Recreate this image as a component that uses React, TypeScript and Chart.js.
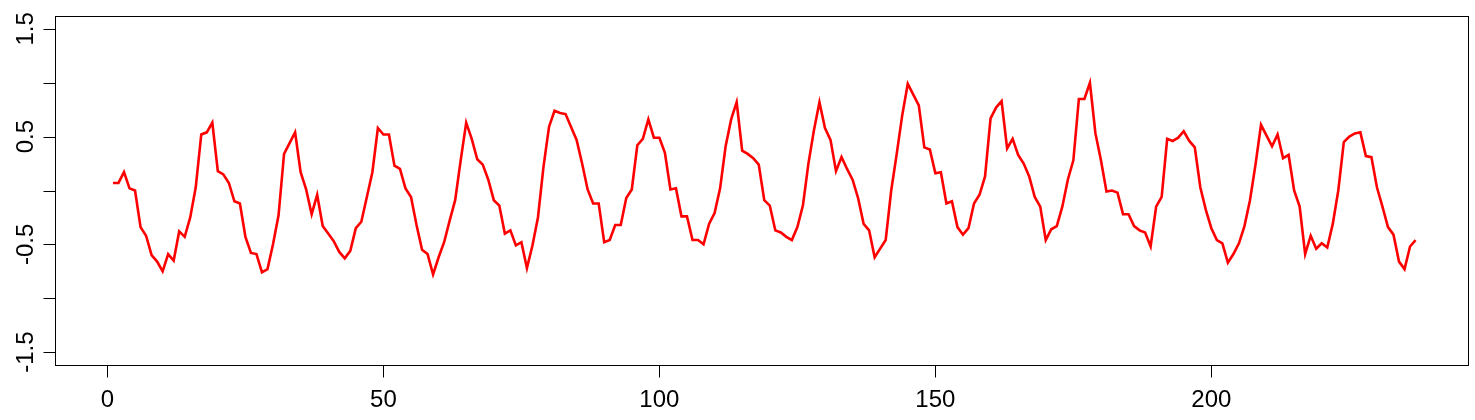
import React, { useEffect, useRef } from "react";
import { Chart, registerables } from "chart.js";

Chart.register(...registerables);

const seriesValues: number[] = [
  0.07, 0.07, 0.17, 0.02, 0.0, -0.34, -0.42, -0.6, -0.66, -0.75,
  -0.59, -0.65, -0.38, -0.43, -0.25, 0.03, 0.52, 0.54, 0.63, 0.18,
  0.15, 0.07, -0.1, -0.12, -0.43, -0.58, -0.59, -0.76, -0.73, -0.5,
  -0.23, 0.34, 0.44, 0.54, 0.17, 0.01, -0.22, -0.04, -0.33, -0.4,
  -0.47, -0.57, -0.63, -0.56, -0.35, -0.29, -0.06, 0.17, 0.58, 0.52,
  0.52, 0.23, 0.2, 0.02, -0.06, -0.32, -0.55, -0.59, -0.78, -0.62,
  -0.48, -0.28, -0.09, 0.28, 0.63, 0.48, 0.29, 0.24, 0.1, -0.09,
  -0.14, -0.4, -0.37, -0.51, -0.48, -0.72, -0.51, -0.25, 0.22, 0.59,
  0.74, 0.72, 0.71, 0.59, 0.47, 0.25, 0.01, -0.12, -0.12, -0.48,
  -0.46, -0.32, -0.32, -0.07, 0.01, 0.42, 0.48, 0.66, 0.49, 0.49,
  0.35, 0.01, 0.02, -0.24, -0.24, -0.46, -0.46, -0.5, -0.31, -0.21,
  0.02, 0.41, 0.66, 0.82, 0.37, 0.34, 0.3, 0.24, -0.09, -0.14,
  -0.37, -0.39, -0.43, -0.46, -0.34, -0.14, 0.25, 0.56, 0.82, 0.58,
  0.47, 0.18, 0.31, 0.2, 0.1, -0.07, -0.31, -0.37, -0.62, -0.54,
  -0.46, 0.0, 0.34, 0.7, 0.99, 0.89, 0.79, 0.4, 0.38, 0.16,
  0.17, -0.12, -0.1, -0.34, -0.41, -0.35, -0.12, -0.04, 0.13, 0.67,
  0.77, 0.83, 0.39, 0.48, 0.33, 0.25, 0.13, -0.06, -0.15, -0.46,
  -0.36, -0.33, -0.15, 0.1, 0.28, 0.85, 0.85, 1.0, 0.53, 0.28,
  -0.01, 0.0, -0.02, -0.22, -0.22, -0.33, -0.37, -0.39, -0.52, -0.15,
  -0.06, 0.48, 0.46, 0.49, 0.55, 0.46, 0.4, 0.03, -0.18, -0.35,
  -0.46, -0.49, -0.67, -0.59, -0.49, -0.33, -0.09, 0.24, 0.61, 0.51,
  0.41, 0.52, 0.3, 0.33, 0.0, -0.15, -0.59, -0.42, -0.54, -0.49,
  -0.53, -0.31, 0.0, 0.45, 0.5, 0.53, 0.54, 0.32, 0.31, 0.03,
  -0.15, -0.34, -0.41, -0.66, -0.73, -0.52, -0.46,
];

const xTicks: number[] = [0, 50, 100, 150, 200];
const xTickLabels: string[] = ["0", "50", "100", "150", "200"];
const yTicks: number[] = [-1.5, -1, -0.5, 0, 0.5, 1, 1.5];
const yTickLabels: string[] = ["-1.5", "", "-0.5", "", "0.5", "", "1.5"];

const FONT = '24px "Liberation Sans", Arial, sans-serif';

const rAxesPlugin = {
  id: "rAxes",
  afterDraw(chart: any) {
    const { ctx, chartArea } = chart;
    const xs = chart.scales.x;
    const ys = chart.scales.y;
    const { left, right, top, bottom } = chartArea;
    ctx.save();
    ctx.strokeStyle = "#000";
    ctx.lineWidth = 1;
    // box
    ctx.strokeRect(Math.round(left) + 0.5, Math.round(top) + 0.5, Math.round(right - left), Math.round(bottom - top));
    // x axis
    ctx.beginPath();
    const bx = Math.round(bottom) + 0.5;
    ctx.moveTo(xs.getPixelForValue(xTicks[0]), bx);
    ctx.lineTo(xs.getPixelForValue(xTicks[xTicks.length - 1]), bx);
    xTicks.forEach((t) => {
      const px = Math.round(xs.getPixelForValue(t)) + 0.5;
      ctx.moveTo(px, bx);
      ctx.lineTo(px, bx + 12);
    });
    // y axis
    const lx = Math.round(left) + 0.5;
    ctx.moveTo(lx, ys.getPixelForValue(yTicks[0]));
    ctx.lineTo(lx, ys.getPixelForValue(yTicks[yTicks.length - 1]));
    yTicks.forEach((t) => {
      const py = Math.round(ys.getPixelForValue(t)) + 0.5;
      ctx.moveTo(lx, py);
      ctx.lineTo(lx - 12, py);
    });
    ctx.stroke();

    ctx.fillStyle = "#000";
    ctx.font = FONT;
    ctx.textAlign = "center";
    ctx.textBaseline = "alphabetic";
    xTicks.forEach((t, i) => {
      ctx.fillText(xTickLabels[i], xs.getPixelForValue(t), bottom + 42);
    });
    yTicks.forEach((t, i) => {
      if (!yTickLabels[i]) return;
      ctx.save();
      ctx.translate(left - 22, ys.getPixelForValue(t));
      ctx.rotate(-Math.PI / 2);
      ctx.fillText(yTickLabels[i], 0, 0);
      ctx.restore();
    });
    ctx.restore();
  },
};

const bgPlugin = {
  id: "bg",
  beforeDraw(chart: any) {
    const { ctx, width, height } = chart;
    ctx.save();
    ctx.fillStyle = "#fff";
    ctx.fillRect(0, 0, width, height);
    ctx.restore();
  },
};

export default function App() {
  const ref = useRef<HTMLCanvasElement | null>(null);
  useEffect(() => {
    if (!ref.current) return;
    const points = seriesValues.map((v, i) => ({ x: i + 1, y: v }));
    const chart = new Chart(ref.current, {
      type: "line",
      data: {
        datasets: [
          {
            data: points,
            borderColor: "#FF0000",
            borderWidth: 2.6,
            pointRadius: 0,
            tension: 0,
            fill: false,
          },
        ],
      },
      options: {
        animation: false,
        responsive: false,
        maintainAspectRatio: false,
        events: [],
        layout: { padding: { left: 55, top: 16, right: 7, bottom: 55 } },
        plugins: { legend: { display: false }, tooltip: { enabled: false } },
        scales: {
          x: { type: "linear", min: -9.5, max: 246.5, display: false },
          y: { type: "linear", min: -1.62, max: 1.62, display: false },
        },
      },
      plugins: [bgPlugin, rAxesPlugin],
    });
    return () => chart.destroy();
  }, []);
  return (
    <div style={{ position: "fixed", left: 0, top: 0, width: 1475, height: 420, background: "#fff" }}>
      <canvas ref={ref} width={1475} height={420} style={{ width: 1475, height: 420, display: "block" }} />
    </div>
  );
}
